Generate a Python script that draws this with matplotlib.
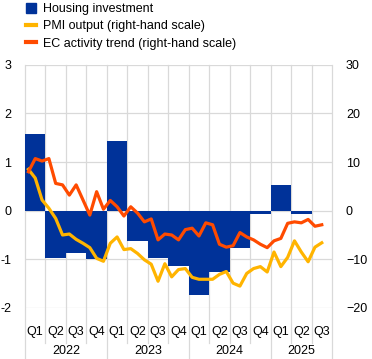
import numpy as np
import matplotlib
matplotlib.use('Agg')
import matplotlib.pyplot as plt
from matplotlib.lines import Line2D

plt.rcParams['font.family'] = ['Liberation Sans', 'DejaVu Sans']
plt.rcParams['font.size'] = 9

quarters = ['Q1', 'Q2', 'Q3', 'Q4'] * 3 + ['Q1', 'Q2', 'Q3']
years = ['2022', '2023', '2024', '2025']

# quarterly, left-hand scale (last quarter not yet available)
housing = [1.58, -0.98, -0.88, -0.99, 1.44, -0.62, -0.97, -1.13,
           -1.73, -1.26, -0.76, -0.07, 0.52, -0.07, np.nan]

# monthly, Jan 2022 - Aug 2025, right-hand scale
pmi = [8.5, 6.7, 2.2, 0.5, -1.6, -5.0, -4.8, -5.9, -6.7, -7.6,
       -9.8, -10.4, -6.7, -5.4, -8.0, -7.8, -8.8, -10.1, -11.0, -14.5,
       -10.9, -13.6, -12.1, -11.9, -13.7, -14.1, -14.1, -14.1, -13.1, -12.5,
       -14.9, -15.5, -12.9, -11.9, -11.5, -12.6, -8.5, -11.5, -9.6, -6.2,
       -8.5, -10.5, -7.5, -6.6]
ec = [8.0, 10.7, 10.2, 10.7, 5.6, 5.3, 3.2, 5.3, 2.2, -0.9,
      3.9, 0.3, 2.1, 0.8, -1.1, 0.8, -0.5, -2.3, -1.7, -6.0,
      -4.8, -5.0, -6.0, -3.9, -3.6, -5.2, -2.5, -2.9, -6.9, -7.5,
      -7.2, -4.5, -5.4, -6.0, -6.9, -7.6, -6.2, -5.7, -2.6, -2.3,
      -2.5, -1.8, -3.2, -2.9]

blue = '#003299'
yellow = '#ffb400'
orange = '#ff4b00'
grid = '#d9d9d9'

fig = plt.figure(figsize=(3.72, 3.59), dpi=100)
ax = fig.add_axes([0.0672, 0.1421, 0.8253, 0.6777])

xq = np.arange(len(housing))
ax.bar(xq, housing, width=1.0, color=blue, zorder=2)
ax.set_xlim(-0.5, len(housing) - 0.5)
ax.set_ylim(-2, 3)
ax.set_yticks(range(-2, 4))
ax.set_yticklabels([str(v) for v in range(-2, 4)])
for v in range(-2, 4):
    ax.axhline(v, color=grid, lw=0.9, zorder=0)

# vertical separators, running down through the tick labels
for k in range(len(housing) + 1):
    ymin = -0.144
    if k in (0, 4, 8, 12, len(housing)):
        ymin = -0.215
    ax.axvline(k - 0.5, ymin=ymin, ymax=1, color=grid, lw=0.9,
               clip_on=False, zorder=0)

for s in ax.spines.values():
    s.set_visible(False)
ax.tick_params(axis='both', length=0)
ax.tick_params(axis='y', pad=10)
ax.set_xticks([])

trans = ax.get_xaxis_transform()
for i, q in enumerate(quarters):
    ax.text(i, -0.098, q, transform=trans, ha='center', va='center')
for y, xc in zip(years, [1.5, 5.5, 9.5, 13.0]):
    ax.text(xc, -0.178, y, transform=trans, ha='center', va='center')

ax2 = ax.twinx()
xm = -1 / 3 + np.arange(len(pmi)) / 3
ax2.plot(xm, pmi, color=yellow, lw=2.3, solid_joinstyle='round')
ax2.plot(xm, ec, color=orange, lw=2.3, solid_joinstyle='round')
ax2.set_ylim(-20, 30)
ax2.set_yticks(range(-20, 31, 10))
for s in ax2.spines.values():
    s.set_visible(False)
ax2.tick_params(axis='y', length=0, pad=10)

handles = [
    Line2D([], [], marker='s', ls='none', color=blue, markersize=6.8),
    Line2D([], [], color=yellow, lw=3),
    Line2D([], [], color=orange, lw=3),
]
labels = ['Housing investment', 'PMI output (right-hand scale)',
          'EC activity trend (right-hand scale)']
fig.legend(handles, labels, loc='upper left', bbox_to_anchor=(0.05, 1.012),
           frameon=False, handlelength=0.8, handletextpad=0.55,
           labelspacing=0.42, borderaxespad=0.2)

fig.savefig('out.png', dpi=100)
